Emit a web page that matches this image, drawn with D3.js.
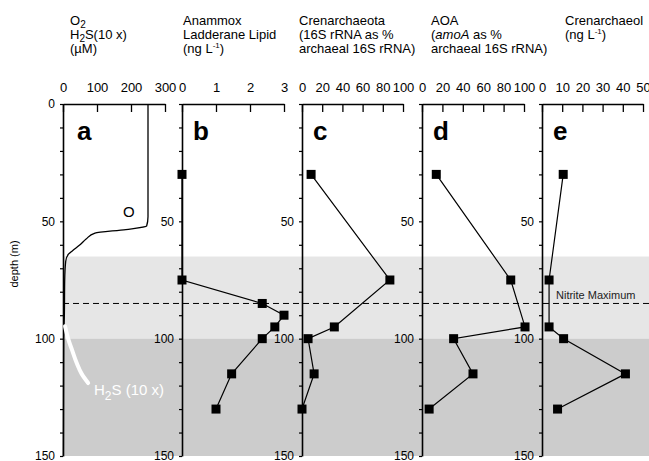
<!DOCTYPE html>
<html><head><meta charset="utf-8">
<script src="https://cdn.jsdelivr.net/npm/d3@7"></script>
<style>body{margin:0;background:#fff} svg{display:block} text{font-family:"Liberation Sans",Arial,Helvetica,sans-serif}</style>
</head><body><svg id="chart" width="649" height="461"></svg>
<script>
// ---- data ----
const o2Depth = [0, 48, 52, 53.5, 55, 57.5, 60, 62.5, 64, 67, 75, 90, 100, 150];
const o2Value = [250, 250, 246, 185, 94, 68, 50, 28, 16, 8, 5, 4, 2, 1];
const h2sDepth = [94.7, 100.4, 105, 110.3, 115, 118.9];
const h2sValue = [6, 16, 27, 40, 55, 74];

const ladDepth = [30, 75, 85, 90, 95, 100, 115, 130];
const ladValue = [0, 0, 2.36, 3.0, 2.73, 2.36, 1.46, 1.0];

const crenDepth = [30, 75, 95, 100, 115, 130];
const crenValue = [9, 87, 32, 6, 12, 0];

const aoaDepth = [30, 75, 95, 100, 115, 130];
const aoaValue = [14, 87, 101, 31, 50, 7];

const crolDepth = [30, 75, 95, 100, 115, 130];
const crolValue = [10.5, 3.5, 3.5, 10.7, 41.3, 7.7];

const panelLetters = ["a", "b", "c", "d", "e"];
const panelDomains = [[0, 300], [0, 3], [0, 100], [0, 100], [0, 50]];
const panelTicks = [[0, 100, 200, 300], [0, 1, 2, 3], [0, 20, 40, 60, 80, 100], [0, 20, 40, 60, 80, 100], [0, 10, 20, 30, 40, 50]];
const depthTicks = d3.range(0, 151, 10);
const nitriteMaxDepth = 85;
const zoneLight = [65, 100];
const zoneDark = [100, 150];

// header text: arrays of lines, each line array of segments [text, style]
const headers = [
  [[["O",""],["2","sub"]], [["H",""],["2","sub"],["S(10 x)",""]], [["(\u00b5M)",""]]],
  [[["Anammox",""]], [["Ladderane Lipid",""]], [["(ng L",""],["-1","sup"],[")",""]]],
  [[["Crenarchaeota",""]], [["(16S rRNA as %",""]], [["archaeal 16S rRNA)",""]]],
  [[["AOA",""]], [["(",""],["amoA","it"],[" as %",""]], [["archaeal 16S rRNA)",""]]],
  [[["Crenarchaeol",""]], [["(ng L",""],["-1","sup"],[")",""]]]
];

// ---- layout ----
const svg = d3.select("#chart");
const y = d3.scaleLinear().domain([0, 150]).range([104, 456]);
const panelRanges = [[63, 165], [182, 284], [302, 403], [422, 524], [542, 643]];
const headerX = [70, 183, 299, 431, 565];
const xs = panelDomains.map((d, i) => d3.scaleLinear().domain(d).range(panelRanges[i]));

// shaded zones
svg.append("rect").attr("x", 63).attr("width", 649 - 63)
  .attr("y", y(zoneLight[0])).attr("height", y(zoneLight[1]) - y(zoneLight[0])).attr("fill", "#e6e6e6");
svg.append("rect").attr("x", 63).attr("width", 649 - 63)
  .attr("y", y(zoneDark[0])).attr("height", y(zoneDark[1]) - y(zoneDark[0])).attr("fill", "#cccccc");

// nitrite maximum dashed line
svg.append("line").attr("x1", 63).attr("x2", 649)
  .attr("y1", y(nitriteMaxDepth)).attr("y2", y(nitriteMaxDepth))
  .attr("stroke", "#000").attr("stroke-width", 1).attr("stroke-dasharray", "6,4");
svg.append("text").attr("x", 556).attr("y", y(nitriteMaxDepth) - 4.5)
  .attr("font-size", 11).attr("fill", "#222").text("Nitrite Maximum");

// axes
xs.forEach((x, i) => {
  const gt = svg.append("g").attr("transform", `translate(0,${y(0)})`)
    .call(d3.axisTop(x).tickValues(panelTicks[i]).tickSize(-8).tickSizeOuter(0).tickPadding(12)
      .tickFormat(d3.format("d")));
  gt.selectAll("text").attr("font-size", 13).attr("font-family", null).attr("fill", "#000");
  gt.select(".domain").attr("stroke-width", 1.5);
  gt.selectAll(".tick line").attr("stroke-width", 1.3);

  const showLabels = i === 0 ? [0, 50, 100, 150] : [50, 100, 150];
  const gl = svg.append("g").attr("transform", `translate(${panelRanges[i][0]},0)`)
    .call(d3.axisLeft(y).tickValues(depthTicks).tickSize(3).tickSizeOuter(0).tickPadding(5)
      .tickFormat(d => showLabels.includes(d) ? d : ""));
  gl.selectAll("text").attr("font-size", 12).attr("font-family", null).attr("fill", "#000");
  gl.select(".domain").attr("stroke-width", 1.6);
  gl.selectAll(".tick line").attr("stroke-width", 1.2);

  // panel letter
  svg.append("text").attr("x", panelRanges[i][0] + (i === 0 ? 14 : 11)).attr("y", 140)
    .attr("font-size", 26).attr("font-weight", "bold").text(panelLetters[i]);

  // header
  headers[i].forEach((line, li) => {
    const t = svg.append("text").attr("x", headerX[i]).attr("y", 25 + li * 14).attr("font-size", 13);
    line.forEach(([s, st]) => {
      const ts = t.append("tspan").text(s);
      if (st === "sub") ts.attr("font-size", 10).attr("baseline-shift", "-3");
      if (st === "sup") ts.attr("font-size", 8).attr("baseline-shift", "5");
      if (st === "it") ts.attr("font-style", "italic");
    });
  });
});

// panel a: O2 and H2S
const xa = xs[0];
svg.append("path").datum(o2Depth.map((d, i) => [o2Value[i], d]))
  .attr("fill", "none").attr("stroke", "#000").attr("stroke-width", 1.3)
  .attr("d", d3.line().x(p => xa(p[0])).y(p => y(p[1])).curve(d3.curveMonotoneY));
svg.append("path").datum(h2sDepth.map((d, i) => [h2sValue[i], d]))
  .attr("fill", "none").attr("stroke", "#fff").attr("stroke-width", 4).attr("stroke-linecap", "round")
  .attr("d", d3.line().x(p => xa(p[0])).y(p => y(p[1])).curve(d3.curveMonotoneY));
svg.append("text").attr("x", 123).attr("y", 217).attr("font-size", 15).text("O");
const hl = svg.append("text").attr("x", 94).attr("y", 395).attr("font-size", 15).attr("fill", "#fff");
hl.append("tspan").text("H");
hl.append("tspan").text("2").attr("font-size", 12).attr("baseline-shift", "-5");
hl.append("tspan").text("S (10 x)");

// profile panels
const profiles = [
  [1, ladDepth, ladValue],
  [2, crenDepth, crenValue],
  [3, aoaDepth, aoaValue],
  [4, crolDepth, crolValue]
];
profiles.forEach(([pi, dep, val]) => {
  const x = xs[pi];
  const pts = dep.map((d, i) => [val[i], d]);
  svg.append("path").datum(pts).attr("fill", "none").attr("stroke", "#000").attr("stroke-width", 1.2)
    .attr("d", d3.line().x(p => x(p[0])).y(p => y(p[1])));
  svg.selectAll(null).data(pts).enter().append("rect")
    .attr("x", p => x(p[0]) - 4.5).attr("y", p => y(p[1]) - 4.5)
    .attr("width", 9).attr("height", 9).attr("fill", "#000");
});

// y title
svg.append("text").attr("transform", "translate(18,264) rotate(-90)")
  .attr("text-anchor", "middle").attr("font-size", 11).text("depth (m)");
</script>
</body></html>
